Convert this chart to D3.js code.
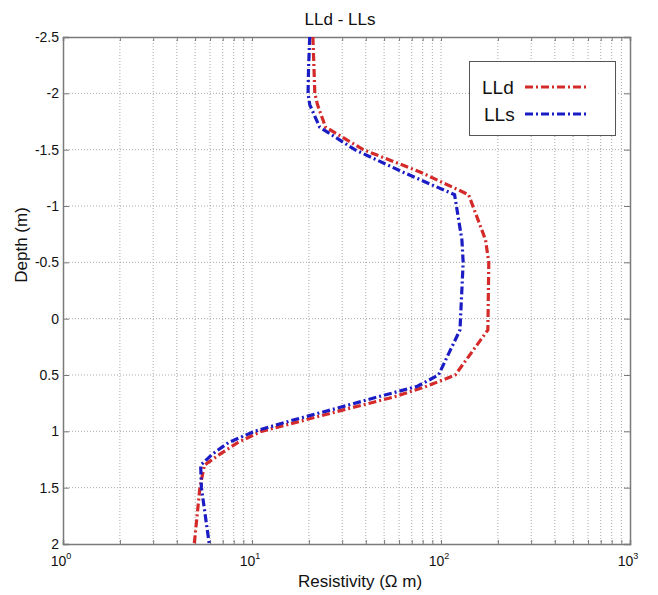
<!DOCTYPE html>
<html>
<head>
<meta charset="utf-8">
<script src="https://cdn.jsdelivr.net/npm/d3@7"></script>
<style>
  body { margin: 0; background: #ffffff; }
  text { font-family: "Liberation Sans", Arial, sans-serif; fill: #111111; }
</style>
</head>
<body>
<div id="chart"></div>
<script>
width = 658;
height = 595;

// data
var depth = [-2.5, -2.2, -2.0, -1.9, -1.7, -1.5, -1.3, -1.1, -0.7, -0.5, 0.1, 0.5, 0.6, 0.7, 0.8, 0.9, 1.0, 1.1, 1.2, 1.3, 1.5, 2.0];
var lld   = [21.0, 21.3, 21.5, 22.2, 24.5, 38.8, 78, 140, 172, 179, 177, 119, 84, 55, 32, 19, 11.2, 8.4, 6.8, 5.6, 5.3, 4.95];
var lls   = [20.2, 19.9, 19.8, 20.2, 22.8, 35, 63, 118, 129, 131, 126, 97, 75, 45, 27.5, 16.5, 10.3, 7.5, 6.2, 5.35, 5.4, 5.94];
var seriesNames = ["LLd", "LLs"];
var seriesColors = ["#d42a2a", "#1c1cc4"];
var yTicks = [-2.5, -2, -1.5, -1, -0.5, 0, 0.5, 1, 1.5, 2];
var xTicks = [1, 10, 100, 1000];

var pLeft = 63, pRight = 630, pTop = 37, pBottom = 544;

var svg = d3.select("#chart")
    .append("svg")
    .attr("width", width)
    .attr("height", height);

var x = d3.scaleLog().domain([1, 1000]).range([pLeft, pRight]);
var y = d3.scaleLinear().domain([-2.5, 2]).range([pTop, pBottom]);

// minor decade values for the grid
var minor = [];
for (var k = 0; k < 3; k++) {
    for (var m = 1; m < 10; m++) minor.push(m * Math.pow(10, k));
}
minor.push(1000);

// grid
svg.append("g")
    .selectAll("line")
    .data(minor.filter(function(d) { return d > 1 && d < 1000; }))
    .enter()
    .append("line")
    .attr("x1", d => x(d)).attr("x2", d => x(d))
    .attr("y1", pTop).attr("y2", pBottom)
    .style("stroke", "#a8a8a8")
    .style("stroke-width", 1)
    .style("stroke-dasharray", "1,2");

svg.append("g")
    .selectAll("line")
    .data(yTicks.filter(function(d) { return d > -2.5 && d < 2; }))
    .enter()
    .append("line")
    .attr("x1", pLeft).attr("x2", pRight)
    .attr("y1", d => y(d)).attr("y2", d => y(d))
    .style("stroke", "#a8a8a8")
    .style("stroke-width", 1)
    .style("stroke-dasharray", "1,2");

// axes (ticks pointing inward)
var axisColor = "#7a7a7a";

var yLeft = svg.append("g")
    .attr("transform", "translate(" + pLeft + ",0)")
    .call(d3.axisRight(y).tickValues(yTicks).tickSize(6).tickFormat(""));
var yRight = svg.append("g")
    .attr("transform", "translate(" + pRight + ",0)")
    .call(d3.axisLeft(y).tickValues(yTicks).tickSize(6).tickFormat(""));
var xBottom = svg.append("g")
    .attr("transform", "translate(0," + pBottom + ")")
    .call(d3.axisTop(x).tickValues(minor).tickSize(4).tickFormat(""));
var xTop = svg.append("g")
    .attr("transform", "translate(0," + pTop + ")")
    .call(d3.axisBottom(x).tickValues(minor).tickSize(4).tickFormat(""));

[yLeft, yRight, xBottom, xTop].forEach(function(g) {
    g.selectAll(".domain").style("stroke", axisColor).style("stroke-width", 1.5);
    g.selectAll(".tick line").style("stroke", axisColor).style("stroke-width", 1);
});

// y tick labels
svg.append("g")
    .selectAll("text")
    .data(yTicks)
    .enter()
    .append("text")
    .attr("x", pLeft - 4)
    .attr("y", d => y(d) + 5)
    .attr("text-anchor", "end")
    .style("font-size", "14px")
    .text(d => d);

// x tick labels 10^n
var xl = svg.append("g")
    .selectAll("text")
    .data(xTicks)
    .enter()
    .append("text")
    .attr("x", d => x(d) - 2)
    .attr("y", pBottom + 22)
    .attr("text-anchor", "middle")
    .style("font-size", "14px");
xl.append("tspan").text("10");
xl.append("tspan")
    .attr("dy", -7)
    .style("font-size", "9px")
    .text(d => Math.round(Math.log10(d)));

// series lines
var line = d3.line()
    .x(d => x(d[0]))
    .y(d => y(d[1]));

var series = [lld, lls];
series.forEach(function(vals, i) {
    svg.append("path")
        .datum(vals.map(function(v, j) { return [v, depth[j]]; }))
        .attr("d", line)
        .style("fill", "none")
        .style("stroke", seriesColors[i])
        .style("stroke-width", 3.2)
        .style("stroke-dasharray", "8,3,2,3");
});

// title & labels
svg.append("text")
    .attr("x", 340)
    .attr("y", 25)
    .attr("text-anchor", "middle")
    .style("font-size", "17px")
    .text("LLd - LLs");

svg.append("text")
    .attr("x", 360)
    .attr("y", 587)
    .attr("text-anchor", "middle")
    .style("font-size", "17px")
    .text("Resistivity (\u03A9 m)");

svg.append("text")
    .attr("transform", "translate(27,245) rotate(-90)")
    .attr("text-anchor", "middle")
    .style("font-size", "17px")
    .text("Depth  (m)");

// legend
var legend = svg.append("g");
legend.append("rect")
    .attr("x", 469.5).attr("y", 61.5)
    .attr("width", 146).attr("height", 74)
    .style("fill", "#ffffff")
    .style("stroke", "#555555")
    .style("stroke-width", 1);

seriesNames.forEach(function(name, i) {
    var ly = 87 + i * 27;
    legend.append("text")
        .attr("x", i == 0 ? 482 : 484)
        .attr("y", ly + 7)
        .style("font-size", "19px")
        .text(name);
    legend.append("line")
        .attr("x1", 525).attr("x2", 587)
        .attr("y1", ly).attr("y2", ly)
        .style("stroke", seriesColors[i])
        .style("stroke-width", 3.2)
        .style("stroke-dasharray", "8,3,2,3");
});
</script>
</body>
</html>
